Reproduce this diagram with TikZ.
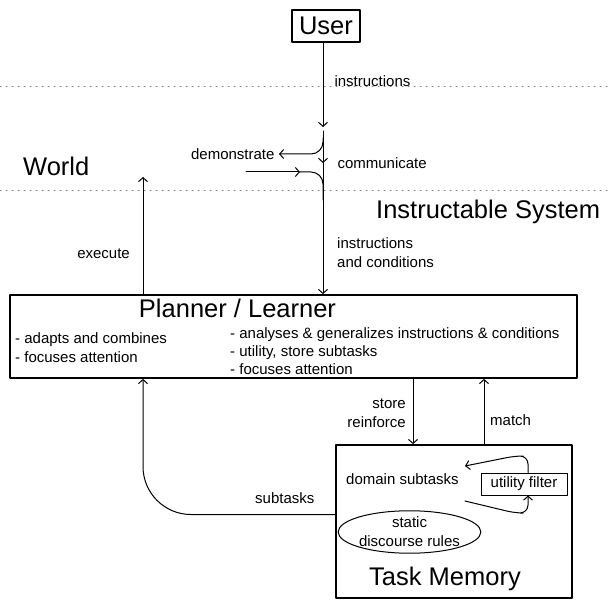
\documentclass[tikz,border=0pt]{standalone}
\usepackage{fontspec}
\setmainfont{Liberation Sans}
\usetikzlibrary{arrows.meta,shapes.geometric}
\begin{document}
\begin{tikzpicture}[x=1pt,y=-1pt,>={Straight Barb[length=4pt,width=9pt]},line join=round,line cap=round,
  big/.style={font=\fontsize{25.5}{30}\selectfont,inner sep=0pt},
  small/.style={font=\fontsize{15}{19}\selectfont,inner sep=0pt},
  box/.style={draw,line width=1.8pt,inner sep=0pt},
  conn/.style={line width=1pt,->},
  sep/.style={gray,line width=1pt,dash pattern=on 1.2pt off 4.8pt}]
\useasboundingbox (0,0) rectangle (610,601);
% World / System border
\draw[sep] (0,87) -- (610,87) (0,191) -- (610,191);
\node[big,anchor=base west] (world) at (23,176) {World};
\node[big,anchor=base west] (system) at (376,219) {Instructable System};
% boxes
\node[box,big,minimum width=68pt,minimum height=32pt] (user) at (326,26) {User};
\node[box,minimum width=567pt,minimum height=83pt] (planner) at (293.5,336.5) {};
\node[box,minimum width=236pt,minimum height=153pt] (taskmem) at (454,521.5) {};
\node[draw,small,line width=1pt,minimum width=86pt,minimum height=22pt] (util) at (524,484) {utility filter};
\node[draw,ellipse,small,line width=1pt,minimum width=133pt,minimum height=42pt,align=center] (rules) at (409.5,532) {static\\discourse rules};
% texts in the boxes
\node[big,anchor=base] (plantitle) at (237.5,318) {Planner / Learner};
\node[small,anchor=north west,align=left] (planleft) at (15,332) {- adapts and combines\\- focuses attention};
\node[small,anchor=north west,align=left,font=\fontsize{15}{18}\selectfont] (planright) at (230,327) {- analyses \& generalizes instructions \& conditions\\- utility, store subtasks\\- focuses attention};
\node[big,anchor=base] (memtitle) at (445,585) {Task Memory};
\node[small,anchor=base west] (domain) at (346,484) {domain subtasks};
% points
\coordinate (instr) at (323,127);
\coordinate (cross) at (323,131);
\coordinate (comm) at (323,163);
\coordinate (demo) at (279,154);
\coordinate (obs) at (246,172);
\coordinate (obsend) at (300,172);
\coordinate (exe) at (143,177);
\coordinate (store) at (413,0);
\coordinate (match) at (484,0);
% connectors
\draw[conn] (user.south -| instr) -- (instr) node[small,pos=.45,right=11pt] {instructions};
\draw[conn] (cross) -- (comm) node[small,right=14pt] {communicate};
\draw[conn] (comm) -- (planner.north -| comm);
\draw[conn,rounded corners=12pt] (323,138) |- (demo) node[small,left=4pt] {demonstrate};
\draw[conn] (obs) -- (obsend);
\draw[line width=1pt,rounded corners=12pt] (obsend) -| (323,200);
\node[small,anchor=north west,align=left] (instrcond) at (337,237) {instructions\\and conditions};
\draw[conn] (planner.north -| exe) -- (exe);
\node[small,anchor=base east] (exelabel) at (130,259) {execute};
\draw[conn] (planner.south -| store) -- (taskmem.north -| store);
\node[small,anchor=north east,align=right] (storelabel) at (406,399) {store\\reinforce};
\draw[conn] (taskmem.north -| match) -- (planner.south -| match);
\node[small,anchor=base west] (matchlabel) at (490,425) {match};
\draw[conn,rounded corners=48pt] (taskmem.west |- 0,514.5) -| (planner.south -| exe);
\node[small,anchor=base west] (sublabel) at (255,503) {subtasks};
\draw[conn,rounded corners=8pt] ([xshift=4pt]util.north) |- (515,456) -- (465,466);
\draw[conn,rounded corners=8pt] (465,501) -- (515,513) -| ([xshift=4pt]util.south);
\end{tikzpicture}
\end{document}
